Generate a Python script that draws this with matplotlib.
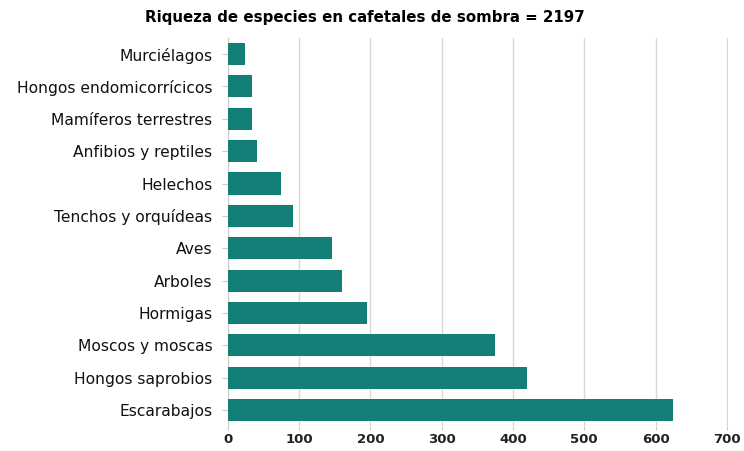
import matplotlib.pyplot as plt

categories = [
    "Murciélagos",
    "Hongos endomicorrícicos",
    "Mamíferos terrestres",
    "Anfibios y reptiles",
    "Helechos",
    "Tenchos y orquídeas",
    "Aves",
    "Arboles",
    "Hormigas",
    "Moscos y moscas",
    "Hongos saprobios",
    "Escarabajos",
]
species = [24, 34, 34, 41, 75, 91, 146, 161, 195, 375, 420, 625]
x_ticks = [0, 100, 200, 300, 400, 500, 600, 700]
title = "Riqueza de especies en cafetales de sombra = 2197"

plt.rcParams['font.family'] = ['DejaVu Sans']

fig = plt.figure(figsize=(7.44, 4.51), dpi=100)
ax = fig.add_axes([0.306, 0.055, 0.673, 0.861])

y = list(range(len(categories)))
ax.barh(y, species, height=0.68, color='#137f77', zorder=3)

ax.set_ylim(len(categories) - 0.5, -0.5)
ax.set_xlim(0, 702)
ax.set_xticks(x_ticks)
ax.set_xticklabels([str(t) for t in x_ticks], fontsize=9.5, fontweight='bold', color='#222222')
ax.set_yticks(y)
ax.set_yticklabels(categories, fontsize=11.2, color='#111111')

ax.grid(axis='x', color='#d8d8d8', linewidth=1, zorder=0)
for side in ['top', 'right', 'bottom']:
    ax.spines[side].set_visible(False)
ax.spines['left'].set_color('#cccccc')
ax.tick_params(axis='y', length=4, color='#cccccc', pad=7)
ax.tick_params(axis='x', length=3, color='#cccccc', pad=2)

fig.text(0.49, 0.962, title, ha='center', va='center', fontsize=10.8, fontweight='bold')

fig.savefig('out.png', dpi=100)
